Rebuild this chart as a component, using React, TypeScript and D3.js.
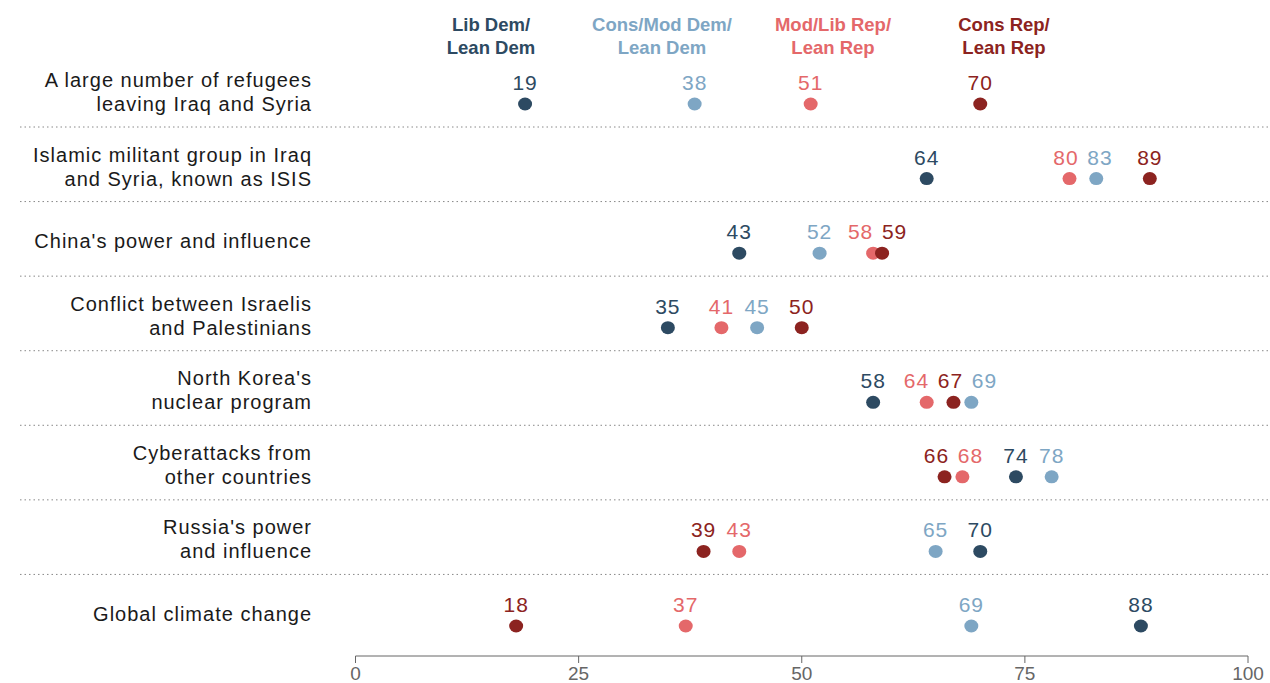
import React from "react";
import * as d3 from "d3";

const topics = [
  "A large number of refugees|leaving Iraq and Syria",
  "Islamic militant group in Iraq|and Syria, known as ISIS",
  "China's power and influence",
  "Conflict between Israelis|and Palestinians",
  "North Korea's|nuclear program",
  "Cyberattacks from|other countries",
  "Russia's power|and influence",
  "Global climate change",
];

const groups = ["Lib Dem/|Lean Dem", "Cons/Mod Dem/|Lean Dem", "Mod/Lib Rep/|Lean Rep", "Cons Rep/|Lean Rep"];
const groupColors = ["#2d4a62", "#7ea6c4", "#e4686a", "#8c2320"];

const libDem = [19, 64, 43, 35, 58, 74, 70, 88];
const consModDem = [38, 83, 52, 45, 69, 78, 65, 69];
const modLibRep = [51, 80, 58, 41, 64, 68, 43, 37];
const consRep = [70, 89, 59, 50, 67, 66, 39, 18];
const series = [libDem, consModDem, modLibRep, consRep];

const axisTicks = [0, 25, 50, 75, 100];

const W = 1270;
const H = 683;
const font = "'Liberation Sans', Arial, sans-serif";

// spread value labels so they don't overlap
function spread(xs: number[], gap: number) {
  const items = xs.map((x, i) => ({ i, x, lx: x })).sort((a, b) => a.x - b.x);
  for (let k = 0; k < 60; k++) {
    for (let j = 1; j < items.length; j++) {
      const d = items[j].lx - items[j - 1].lx;
      if (d < gap) {
        const m = (gap - d) / 2;
        items[j - 1].lx -= m;
        items[j].lx += m;
      }
    }
  }
  const out: number[] = [];
  items.forEach((it) => (out[it.i] = it.lx));
  return out;
}

export default function App() {
  const x = d3.scaleLinear().domain([0, 100]).range([355.5, 1248]);
  const y = d3.scalePoint().domain(topics).range([104, 626]);
  const axisY = 656;

  return (
    <svg
      width={W}
      height={H}
      style={{ position: "absolute", left: 0, top: 0, background: "#fff" }}
      fontFamily={font}
    >
      {/* legend headers */}
      {groups.map((g, i) => (
        <text
          key={g}
          x={491 + i * 171}
          y={31}
          textAnchor="middle"
          fill={groupColors[i]}
          fontSize={18.5}
          fontWeight="bold"
        >
          {g.split("|").map((line, k) => (
            <tspan key={k} x={491 + i * 171} dy={k === 0 ? 0 : 23}>
              {line}
            </tspan>
          ))}
        </text>
      ))}

      {topics.map((t, r) => {
        const cy = y(t) as number;
        const lines = t.split("|");
        const xs = series.map((s) => x(s[r]));
        const lxs = spread(xs, 34);
        return (
          <g key={t}>
            <text
              x={312}
              y={cy - 12}
              textAnchor="end"
              fill="#1a1a1a"
              fontSize={20}
              letterSpacing={1}
            >
              {lines.map((line, k) => (
                <tspan
                  key={k}
                  x={312}
                  dy={k === 0 ? (lines.length === 1 ? 7 : -5) : 24}
                >
                  {line}
                </tspan>
              ))}
            </text>
            {r < topics.length - 1 && (
              <line
                x1={20}
                x2={1270}
                y1={cy + 23}
                y2={cy + 23}
                stroke="#888"
                strokeDasharray="1.5,3"
              />
            )}
            {series.map((s, i) => (
              <g key={i}>
                <ellipse cx={xs[i]} cy={cy} rx={7} ry={6.5} fill={groupColors[i]} />
                <text
                  x={lxs[i]}
                  y={cy - 14}
                  textAnchor="middle"
                  fill={groupColors[i]}
                  fontSize={21}
                  letterSpacing={1}
                >
                  {s[r]}
                </text>
              </g>
            ))}
          </g>
        );
      })}

      {/* x axis */}
      <line x1={x(0)} x2={x(100)} y1={axisY} y2={axisY} stroke="#666" />
      {axisTicks.map((v) => (
        <g key={v}>
          <line x1={x(v)} x2={x(v)} y1={axisY} y2={axisY + 7} stroke="#666" />
          <text
            x={x(v)}
            y={axisY + 24}
            textAnchor="middle"
            fill="#666"
            fontSize={19}
            fontFamily="'Liberation Sans Narrow', 'Liberation Sans', sans-serif"
          >
            {v}
          </text>
        </g>
      ))}
    </svg>
  );
}
